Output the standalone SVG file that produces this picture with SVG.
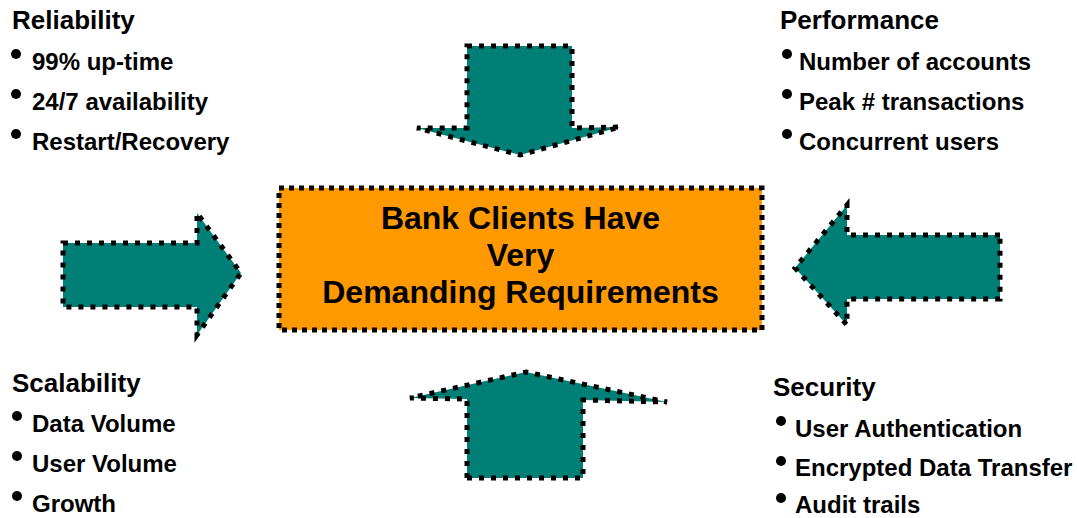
<svg xmlns="http://www.w3.org/2000/svg" width="1077" height="518" viewBox="0 0 1077 518">
  <style>
    .arrow { fill: #007F76; stroke: #000; stroke-width: 5; stroke-dasharray: 5 7; stroke-linejoin: miter; }
    .core { fill: #FF9900; stroke: #000; stroke-width: 5; stroke-dasharray: 5 5; }
    .title { font-family: "Liberation Sans", Arial, sans-serif; font-weight: bold; font-size: 32px; fill: #000; text-anchor: middle; }
    .head { font-family: "Liberation Sans", Arial, sans-serif; font-weight: bold; font-size: 26px; fill: #000; }
    .item { font-family: "Liberation Sans", Arial, sans-serif; font-weight: bold; font-size: 24px; fill: #000; }
    .dot { fill: #000; }
  </style>

  <!-- Arrows pointing at the central statement -->
  <g id="connectors">
    <polygon id="arrow-down" class="arrow" points="467,46 572,46 572,128 620,127 520,155 417,128 467,128"/>
    <polygon id="arrow-right" class="arrow" points="63,243 197,243 197,213 241,273 197,335 197,307 63,307"/>
    <polygon id="arrow-left" class="arrow" points="1000,235 847,235 847,205 795,268 847,325 847,299 1000,299"/>
    <polygon id="arrow-up" class="arrow" points="467,478 583,478 583,400 667,402 526,372 410,398 467,399"/>
  </g>

  <!-- Central statement -->
  <g id="core">
    <rect class="core" x="279" y="188" width="483" height="142"/>
    <text class="title" x="520.5" y="229">Bank Clients Have</text>
    <text class="title" x="520.5" y="266">Very</text>
    <text class="title" x="520.5" y="303">Demanding Requirements</text>
  </g>

  <!-- Reliability -->
  <g id="reliability">
    <text class="head" x="12" y="29">Reliability</text>
    <circle class="dot" cx="16" cy="54" r="5"/>
    <text class="item" x="32" y="70">99% up-time</text>
    <circle class="dot" cx="16" cy="94" r="5"/>
    <text class="item" x="32" y="110">24/7 availability</text>
    <circle class="dot" cx="16" cy="134" r="5"/>
    <text class="item" x="32" y="150">Restart/Recovery</text>
  </g>

  <!-- Performance -->
  <g id="performance">
    <text class="head" x="780" y="29">Performance</text>
    <circle class="dot" cx="787" cy="54" r="5"/>
    <text class="item" x="799" y="70">Number of accounts</text>
    <circle class="dot" cx="787" cy="94" r="5"/>
    <text class="item" x="799" y="110">Peak # transactions</text>
    <circle class="dot" cx="787" cy="134" r="5"/>
    <text class="item" x="799" y="150">Concurrent users</text>
  </g>

  <!-- Scalability -->
  <g id="scalability">
    <text class="head" x="12" y="392">Scalability</text>
    <circle class="dot" cx="17" cy="416" r="5"/>
    <text class="item" x="32" y="432">Data Volume</text>
    <circle class="dot" cx="17" cy="456" r="5"/>
    <text class="item" x="32" y="472">User Volume</text>
    <circle class="dot" cx="17" cy="496" r="5"/>
    <text class="item" x="32" y="512">Growth</text>
  </g>

  <!-- Security -->
  <g id="security">
    <text class="head" x="773" y="396">Security</text>
    <circle class="dot" cx="781" cy="421" r="5"/>
    <text class="item" x="795" y="437">User Authentication</text>
    <circle class="dot" cx="781" cy="461" r="5"/>
    <text class="item" x="795" y="476">Encrypted Data Transfer</text>
    <circle class="dot" cx="781" cy="498" r="5"/>
    <text class="item" x="795" y="513">Audit trails</text>
  </g>
</svg>
